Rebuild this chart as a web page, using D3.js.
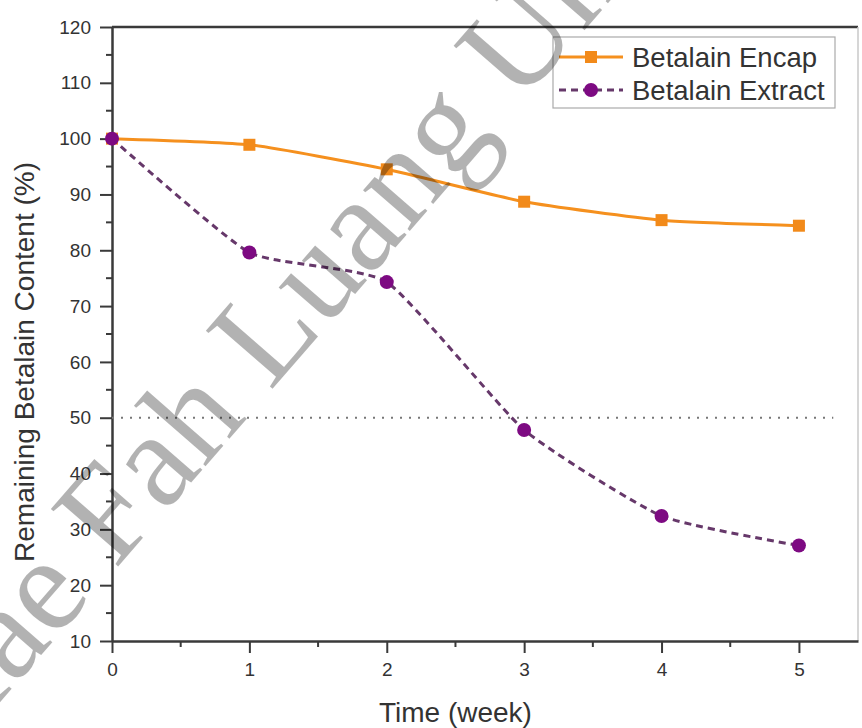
<!DOCTYPE html>
<html>
<head>
<meta charset="utf-8">
<script src="https://cdn.jsdelivr.net/npm/d3@7"></script>
<style>
  html, body { margin: 0; padding: 0; background: #fff; }
  svg { display: block; font-family: "Liberation Sans", Arial, sans-serif; }
</style>
</head>
<body>
<svg id="chart" width="862" height="728"></svg>
<script>
// Storage weeks and remaining betalain content (%)
const weeks = [0, 1, 2, 3, 4, 5];
const encapValues = [100, 98.9, 94.5, 88.7, 85.4, 84.4];
const extractValues = [100, 79.6, 74.3, 47.8, 32.4, 27.1];
const seriesNames = ["Betalain Encap", "Betalain Extract"];
const yTicks = [10, 20, 30, 40, 50, 60, 70, 80, 90, 100, 110, 120];
const xTicks = [0, 1, 2, 3, 4, 5];
const halfLevel = 50;

(function () {
const svg = d3.select("#chart");
const plotLeft = 112, plotRight = 858, plotTop = 27, plotBottom = 641;

const x = d3.scaleLinear().domain([0, 5.43]).range([plotLeft, plotRight]);
const y = d3.scaleLinear().domain([10, 120]).range([plotBottom, plotTop]);

const axisColor = "#3a3a3a";

// frame: top and right edges
svg.append("line").attr("x1", plotLeft).attr("x2", plotRight).attr("y1", plotTop).attr("y2", plotTop)
  .attr("stroke", axisColor).attr("stroke-width", 2.5);
svg.append("line").attr("x1", plotRight).attr("x2", plotRight).attr("y1", plotTop).attr("y2", plotBottom)
  .attr("stroke", "#c8c8c8").attr("stroke-width", 1.5);

// minor ticks
const yMinor = d3.range(15, 120, 10);
svg.append("g").selectAll("line").data(yMinor).join("line")
  .attr("x1", plotLeft - 6).attr("x2", plotLeft).attr("y1", d => y(d)).attr("y2", d => y(d))
  .attr("stroke", axisColor).attr("stroke-width", 2);
const xMinor = d3.range(0.5, 5.5, 1);
svg.append("g").selectAll("line").data(xMinor).join("line")
  .attr("x1", d => x(d)).attr("x2", d => x(d)).attr("y1", plotBottom).attr("y2", plotBottom + 6)
  .attr("stroke", axisColor).attr("stroke-width", 2);

// y axis
const yAxis = svg.append("g").attr("transform", `translate(${plotLeft},0)`)
  .call(d3.axisLeft(y).tickValues(yTicks).tickFormat(d3.format("d"))
    .tickSize(12).tickSizeOuter(0).tickPadding(9));
// x axis
const xAxis = svg.append("g").attr("transform", `translate(0,${plotBottom})`)
  .call(d3.axisBottom(x).tickValues(xTicks).tickFormat(d3.format("d"))
    .tickSize(12).tickSizeOuter(0).tickPadding(10));

[yAxis, xAxis].forEach(g => {
  g.select(".domain").attr("stroke", axisColor).attr("stroke-width", 2.5);
  g.selectAll(".tick line").attr("stroke", axisColor).attr("stroke-width", 2);
  g.selectAll(".tick text").attr("fill", "#333").attr("font-size", 19)
    .attr("font-family", "'Liberation Sans', Arial, sans-serif");
});

// axis titles
svg.append("text").attr("x", x(2.5)).attr("y", 722).attr("text-anchor", "middle")
  .attr("font-size", 28).attr("fill", "#333").text("Time (week)");
svg.append("text").attr("transform", "translate(34,362) rotate(-90)")
  .attr("text-anchor", "middle").attr("font-size", 28).attr("fill", "#333")
  .text("Remaining Betalain Content (%)");

// 50 % reference line
svg.append("line").attr("x1", x(0)).attr("x2", x(5.25)).attr("y1", y(halfLevel)).attr("y2", y(halfLevel))
  .attr("stroke", "#777").attr("stroke-width", 2).attr("stroke-dasharray", "2,7");

const orange = "#F5901E", purple = "#7D0A82", purpleLine = "#66386A";
const curve = d3.curveCardinal.tension(0.5);

const encap = weeks.map((w, i) => [w, encapValues[i]]);
const extract = weeks.map((w, i) => [w, extractValues[i]]);
const line = d3.line().x(d => x(d[0])).y(d => y(d[1])).curve(curve);

svg.append("path").attr("d", line(encap)).attr("fill", "none")
  .attr("stroke", orange).attr("stroke-width", 3);
svg.append("path").attr("d", line(extract)).attr("fill", "none")
  .attr("stroke", purpleLine).attr("stroke-width", 3).attr("stroke-dasharray", "7,5");

svg.append("g").selectAll("rect").data(encap).join("rect")
  .attr("x", d => x(d[0]) - 6).attr("y", d => y(d[1]) - 6).attr("width", 12).attr("height", 12)
  .attr("fill", "#F28A1A");
svg.append("g").selectAll("circle").data(extract).join("circle")
  .attr("cx", d => x(d[0])).attr("cy", d => y(d[1])).attr("r", 7).attr("fill", purple);

// legend
const lg = svg.append("g");
lg.append("rect").attr("x", 553).attr("y", 37).attr("width", 282).attr("height", 71)
  .attr("fill", "#fff").attr("stroke", "#aaa").attr("stroke-width", 1.2);
const rows = [
  { name: seriesNames[0], y: 57, color: orange, dash: null, mark: "rect" },
  { name: seriesNames[1], y: 90, color: purpleLine, dash: "7,5", mark: "circle" }
];
rows.forEach(r => {
  lg.append("line").attr("x1", 559).attr("x2", 623).attr("y1", r.y).attr("y2", r.y)
    .attr("stroke", r.color).attr("stroke-width", 3).attr("stroke-dasharray", r.dash);
  if (r.mark === "rect") {
    lg.append("rect").attr("x", 585).attr("y", r.y - 6).attr("width", 12).attr("height", 12).attr("fill", "#F28A1A");
  } else {
    lg.append("circle").attr("cx", 591).attr("cy", r.y).attr("r", 7).attr("fill", purple);
  }
  lg.append("text").attr("x", 632).attr("y", r.y + 10).attr("font-size", 27.5).attr("fill", "#333").text(r.name);
});

// watermark
svg.append("text")
  .attr("transform", "translate(-95,750) rotate(-49)")
  .attr("dy", "0.3em")
  .attr("font-family", "'Liberation Serif', 'Times New Roman', serif")
  .attr("font-size", 135).attr("fill", "#000").attr("fill-opacity", 0.3)
  .text("Mae Fah Luang University");
})();
</script>
</body>
</html>
